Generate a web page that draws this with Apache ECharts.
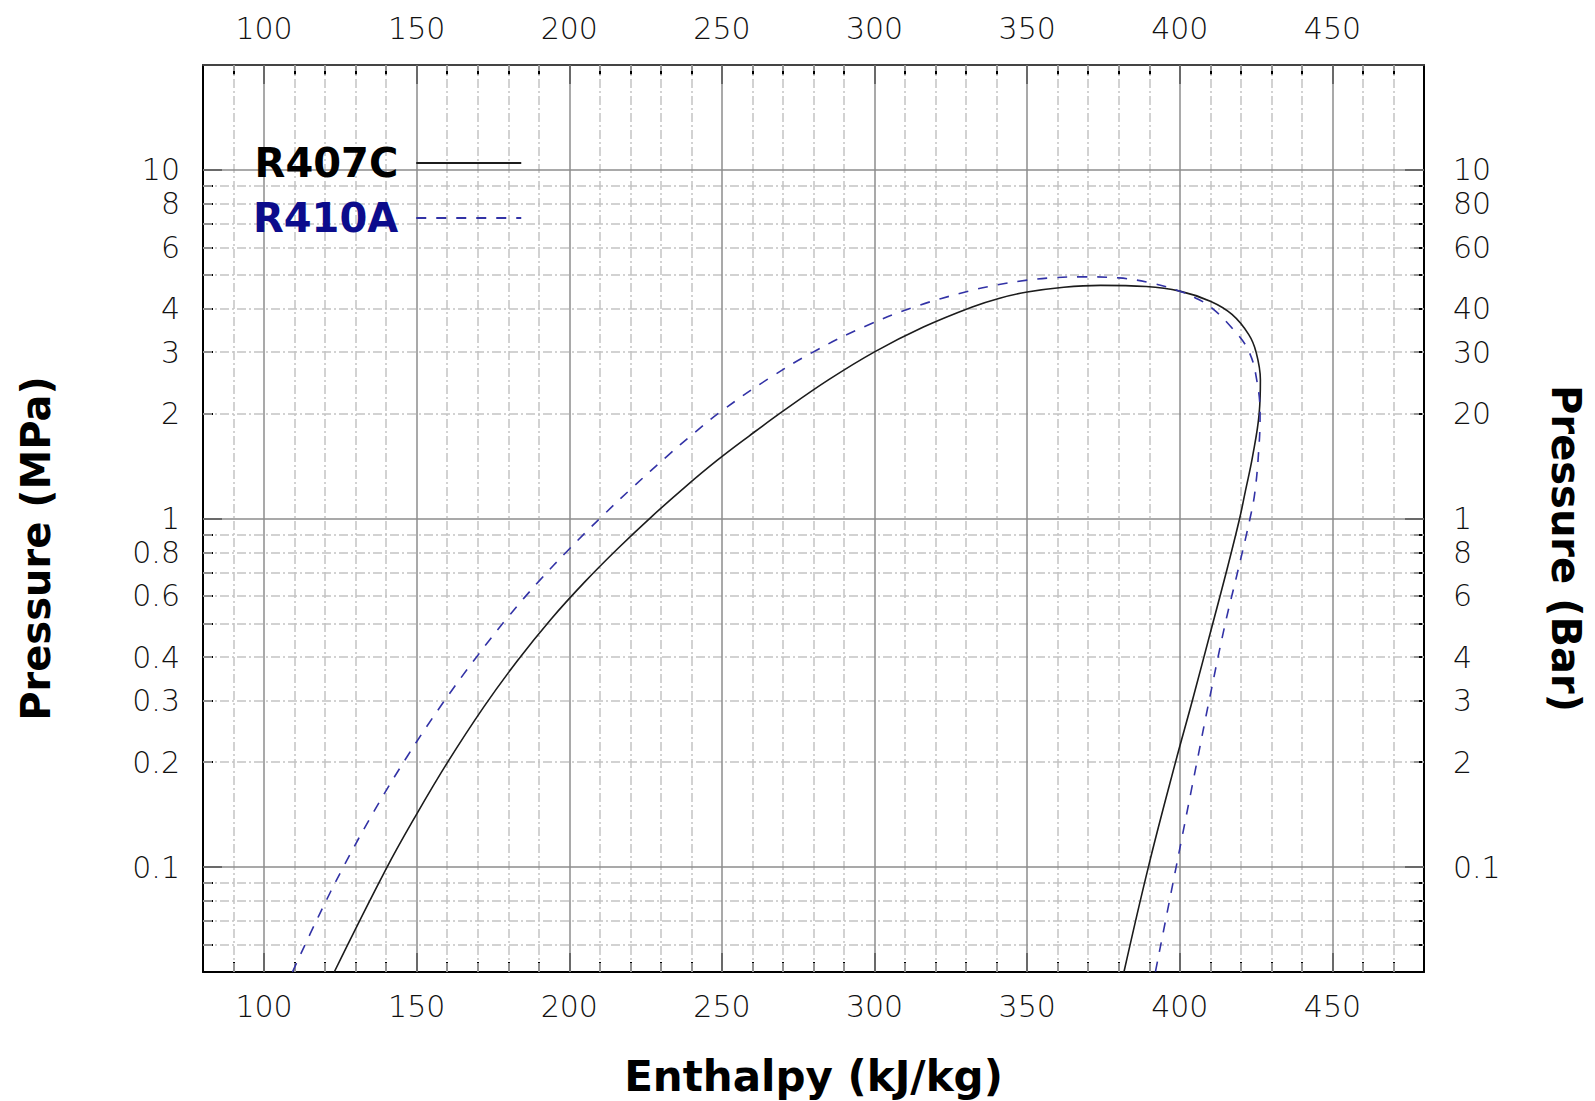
<!DOCTYPE html>
<html><head><meta charset="utf-8">
<script src="https://cdn.jsdelivr.net/npm/echarts@6/dist/echarts.min.js"></script>
<style>html,body{margin:0;padding:0;background:#fff}#c{width:1595px;height:1101px}</style>
</head><body><div id="c"></div>
<script>
// ---- data ----
const enthalpyR407C = [123.0, 140.0, 150.0, 160.0, 172.0, 183.0, 194.0, 205.0, 216.0, 227.0, 238.0, 248.5, 259.0, 270.0, 285.0, 300.0, 316.0, 332.0, 341.0, 350.0, 362.0, 374.0, 389.0, 400.0, 410.0, 417.1, 422.6, 425.0, 426.4, 426.0, 423.8, 421.5, 419.6, 415.2, 410.8, 404.1, 398.6, 389.7, 381.7];
const pressureR407C = [0.05, 0.0988, 0.1419, 0.199, 0.2881, 0.3909, 0.5143, 0.6569, 0.8216, 1.013, 1.233, 1.470, 1.727, 2.032, 2.502, 3.007, 3.543, 4.045, 4.287, 4.464, 4.609, 4.666, 4.63, 4.49, 4.2, 3.85, 3.37, 3.0, 2.5, 2.0, 1.5, 1.2, 1.0, 0.7, 0.5, 0.3, 0.2, 0.1, 0.05];
const enthalpyR410A = [109.3, 118.0, 126.0, 136.0, 147.0, 158.0, 170.0, 180.0, 190.0, 200.0, 210.5, 221.0, 232.0, 241.0, 250.0, 265.0, 281.0, 297.0, 313.0, 331.0, 340.0, 350.0, 359.0, 368.0, 380.0, 390.0, 400.0, 405.0, 410.0, 417.1, 422.6, 425.3, 426.3, 425.9, 424.6, 423.0, 418.9, 414.9, 409.6, 405.6, 398.8, 392.0];
const pressureR410A = [0.05, 0.0727, 0.1001, 0.1444, 0.2083, 0.2906, 0.4048, 0.5226, 0.66, 0.8174, 1.010, 1.234, 1.508, 1.762, 2.037, 2.51, 3.04, 3.562, 4.045, 4.495, 4.676, 4.828, 4.909, 4.935, 4.90, 4.75, 4.49, 4.30, 4.05, 3.52, 3.02, 2.47, 1.98, 1.59, 1.19, 1.0, 0.7, 0.5, 0.3, 0.2, 0.1, 0.05];

const xLabelValues = [100, 150, 200, 250, 300, 350, 400, 450];
const xMinorTicks = [90, 100, 110, 120, 130, 140, 150, 160, 170, 180, 190, 200, 210, 220, 230, 240, 250, 260, 270, 280, 290, 300, 310, 320, 330, 340, 350, 360, 370, 380, 390, 400, 410, 420, 430, 440, 450, 460, 470];
const xMajorTicks = [100, 150, 200, 250, 300, 350, 400, 450];

const yLabelValues = [0.1, 0.2, 0.3, 0.4, 0.6, 0.8, 1, 2, 3, 4, 6, 8, 10];
const yLeftLabels  = ['0.1', '0.2', '0.3', '0.4', '0.6', '0.8', '1', '2', '3', '4', '6', '8', '10'];
const yRightLabels = ['0.1', '2', '3', '4', '6', '8', '1', '20', '30', '40', '60', '80', '10'];
const yMinorTicks = [0.06, 0.07, 0.08, 0.09, 0.2, 0.3, 0.4, 0.5, 0.6, 0.7, 0.8, 0.9, 2, 3, 4, 5, 6, 7, 8, 9];
const yMajorTicks = [0.1, 1, 10];

// ---- helpers ----
function labelFor(list) {
  return function (v) {
    for (let i = 0; i < yLabelValues.length; i++) {
      if (Math.abs(Math.log10(v) - Math.log10(yLabelValues[i])) < 1e-6) return list[i];
    }
    return '';
  };
}
const labelFont = { fontFamily: 'DejaVu Sans', fontSize: 30, fontWeight: 200, color: '#111' };
const nameFont = { fontFamily: 'DejaVu Sans', fontSize: 40, fontWeight: 'bold', color: '#000' };
const X_MIN = 80, X_MAX = 480, Y_MIN = 0.05, Y_MAX = 20;
const MINOR_LEN = 10, MAJOR_LEN = 19;

function xAxisDef(pos, ticks, len, withLabels, lineColor) {
  return {
    type: 'value', position: pos, min: X_MIN, max: X_MAX,
    axisLine: { show: !!lineColor, onZero: false, lineStyle: { color: lineColor || '#000', width: 2 } },
    axisTick: { show: true, inside: true, length: len, customValues: ticks, lineStyle: { color: '#000', width: 2 } },
    axisLabel: withLabels ? Object.assign({ show: true, customValues: xLabelValues, margin: pos === 'top' ? 22 : 19 }, labelFont) : { show: false },
    splitLine: { show: false }
  };
}
function yAxisDef(pos, ticks, len, labels, lineColor) {
  return {
    type: 'log', logBase: 10, position: pos, min: Y_MIN, max: Y_MAX,
    axisLine: { show: !!lineColor, onZero: false, lineStyle: { color: lineColor || '#000', width: 2 } },
    axisTick: { show: true, inside: true, length: len, customValues: ticks, lineStyle: { color: '#000', width: 2 } },
    axisLabel: labels ? Object.assign({ show: true, customValues: yLabelValues, formatter: labelFor(labels), margin: pos === 'left' ? 23 : 29 }, labelFont) : { show: false },
    splitLine: { show: false }, minorTick: { show: false }, minorSplitLine: { show: false }
  };
}

// grid lines (drawn through the axes' scales as mark lines)
const gridMinor = { color: '#c4c4c4', width: 1.5, type: [9, 3, 2, 3] };
const gridMajor = { color: '#8c8c8c', width: 1.5, type: 'solid' };
const gridLines = [];
xMinorTicks.filter(v => xMajorTicks.indexOf(v) < 0).forEach(v => gridLines.push({ xAxis: v, lineStyle: gridMinor }));
yMinorTicks.forEach(v => gridLines.push({ yAxis: v, lineStyle: gridMinor }));
xMajorTicks.forEach(v => gridLines.push({ xAxis: v, lineStyle: gridMajor }));
yMajorTicks.forEach(v => gridLines.push({ yAxis: v, lineStyle: gridMajor }));

const xAxes = [
  xAxisDef('bottom', xMinorTicks, MINOR_LEN, true, '#000'),
  xAxisDef('bottom', xMajorTicks, MAJOR_LEN, false, null),
  xAxisDef('top', xMinorTicks, MINOR_LEN, true, '#444'),
  xAxisDef('top', xMajorTicks, MAJOR_LEN, false, null)
];
xAxes[0].name = 'Enthalpy (kJ/kg)';
xAxes[0].nameLocation = 'middle';
xAxes[0].nameGap = 83;
xAxes[0].nameTextStyle = Object.assign({}, nameFont, { fontSize: 42 });

const yAxes = [
  yAxisDef('left', yMinorTicks, MINOR_LEN, yLeftLabels, '#000'),
  yAxisDef('left', yMajorTicks, MAJOR_LEN, null, null),
  yAxisDef('right', yMinorTicks, MINOR_LEN, yRightLabels, '#000'),
  yAxisDef('right', yMajorTicks, MAJOR_LEN, null, null)
];
yAxes[0].name = 'Pressure (MPa)';
yAxes[0].nameLocation = 'middle';
yAxes[0].nameRotate = 90;
yAxes[0].nameGap = 147;
yAxes[0].nameTextStyle = Object.assign({ padding: [0, 60, 0, 0] }, nameFont);
yAxes[2].name = 'Pressure (Bar)';
yAxes[2].nameLocation = 'middle';
yAxes[2].nameRotate = -90;
yAxes[2].nameGap = 122;
yAxes[2].nameTextStyle = Object.assign({ padding: [0, 0, 0, 60] }, nameFont);

const chart = echarts.init(document.getElementById('c'), null, { renderer: 'svg', width: 1595, height: 1101 });
chart.setOption({
  animation: false,
  backgroundColor: '#fff',
  grid: { left: 203, right: 171, top: 65, bottom: 129, containLabel: false, outerBoundsMode: 'none', show: false },
  xAxis: xAxes,
  yAxis: yAxes,
  legend: {
    orient: 'vertical', left: 253, top: 143, padding: 0, itemGap: 15,
    align: 'right', itemWidth: 105, itemHeight: 20, selectedMode: false,
    itemStyle: { opacity: 0 },
    textStyle: { fontFamily: 'DejaVu Sans', fontWeight: 'bold', fontSize: 40, padding: [0, 13, 0, 0] },
    data: [
      { name: 'R407C', textStyle: { color: '#000' } },
      { name: 'R410A', textStyle: { color: '#0c0c8c' } }
    ]
  },
  series: [
    {
      name: 'grid', type: 'line', data: [], silent: true,
      markLine: { silent: true, symbol: 'none', z: 1, animation: false, label: { show: false }, emphasis: { disabled: true }, data: gridLines }
    },
    {
      name: 'R407C', type: 'line', z: 3, smooth: 0.4, symbol: 'none',
      data: enthalpyR407C.map((h, i) => [h, pressureR407C[i]]),
      lineStyle: { color: '#1c1c1c', width: 1.6, type: 'solid' }
    },
    {
      name: 'R410A', type: 'line', z: 3, smooth: 0.4, symbol: 'none',
      data: enthalpyR410A.map((h, i) => [h, pressureR410A[i]]),
      lineStyle: { color: '#3232a6', width: 1.6, type: [10, 10] }
    }
  ]
});
</script>
</body></html>
